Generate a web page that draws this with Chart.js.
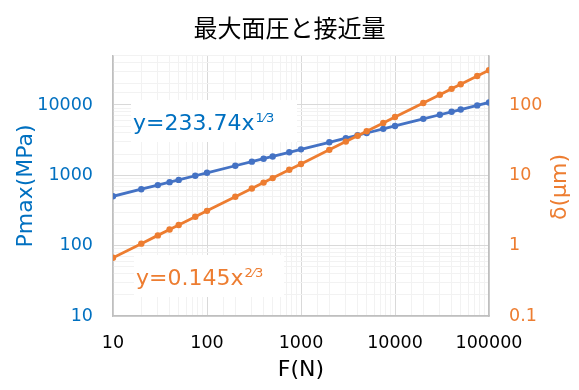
<!DOCTYPE html>
<html>
<head>
<meta charset="utf-8">
<script src="https://cdn.jsdelivr.net/npm/chart.js@4/dist/chart.umd.min.js"></script>
<style>
html,body{margin:0;padding:0;background:#fff;}
#wrap{width:579px;height:390px;position:relative;}
</style>
</head>
<body>
<div id="wrap"><canvas id="c"></canvas></div>
<script>
// Data
const forces = [10,20,30,40,50,75,100,200,300,400,500,750,1000,2000,3000,4000,5000,7500,10000,20000,30000,40000,50000,75000,100000];
const pmax = [503.6,634.5,726.3,799.4,861.1,985.7,1084.9,1366.9,1564.7,1722.2,1855.2,2123.7,2337.4,2944.9,3371.1,3710.3,3996.9,4575.3,5035.7,6344.7,7262.8,7993.8,8611.1,9857.2,10849.3];
const delta = [0.673,1.068,1.400,1.696,1.968,2.579,3.124,4.959,6.498,7.872,9.134,11.970,14.5,23.017,30.161,36.538,42.398,55.558,67.303,106.837,139.996,169.593,196.795,257.875,312.39];
const chartTitle = '最大面圧と接近量';
const xTitle = 'F(N)';
const yLeftTitle = 'Pmax(MPa)';
const yRightTitle = 'δ(μm)';
const pmaxLabel = ['y=233.74x', '1/3'];
const deltaLabel = ['y=0.145x', '2/3'];

const BLUE = '#4472C4', ORANGE = '#ED7D31', BLUE_TXT = '#0070C0';
const FONT = 'DejaVu Sans';
const isPow10 = v => v > 0 && Math.abs(Math.log10(v) - Math.round(Math.log10(v))) < 1e-9;
const fmt = v => isPow10(v) ? String(+v.toPrecision(6)) : '';
const gridColor = ctx => (ctx.tick && isPow10(ctx.tick.value)) ? '#D9D9D9' : '#F2F2F2';

const labelsPlugin = {
  id: 'trendLabels',
  afterDatasetsDraw(chart) {
    const ctx = chart.ctx;
    const drawLabel = (parts, color, x, baseline, boxW) => {
      ctx.save();
      ctx.fillStyle = '#fff';
      ctx.fillRect(x - 2, baseline - 30, boxW, 42);
      ctx.fillStyle = color;
      ctx.textBaseline = 'alphabetic';
      ctx.font = '22px "' + FONT + '"';
      ctx.fillText(parts[0], x, baseline);
      const w = ctx.measureText(parts[0]).width;
      ctx.font = '13px "' + FONT + '"';
      ctx.fillText(parts[1].replace('/', '⁄'), x + w + 1, baseline - 8);
      ctx.restore();
    };
    drawLabel(pmaxLabel, BLUE_TXT, 133, 130, 166);
    drawLabel(deltaLabel, ORANGE, 136, 285, 150);
  },
  afterDraw(chart) {
    const ctx = chart.ctx;
    const a = chart.chartArea;
    ctx.save();
    ctx.translate(560, (a.top + a.bottom) / 2 + 1);
    ctx.rotate(-Math.PI / 2);
    ctx.fillStyle = ORANGE;
    ctx.font = '22px "' + FONT + '"';
    ctx.textAlign = 'center';
    ctx.textBaseline = 'middle';
    ctx.fillText(yRightTitle, 0, 0);
    ctx.restore();
  }
};

new Chart(document.getElementById('c'), {
  type: 'scatter',
  data: {
    datasets: [
      {
        label: 'Pmax',
        data: forces.map((f, i) => ({x: f, y: pmax[i]})),
        yAxisID: 'y',
        showLine: true,
        borderColor: BLUE,
        backgroundColor: BLUE,
        borderWidth: 2.8,
        pointRadius: 3.2,
        pointBorderWidth: 0,
        order: 2
      },
      {
        label: 'delta',
        data: forces.map((f, i) => ({x: f, y: delta[i]})),
        yAxisID: 'y2',
        showLine: true,
        borderColor: ORANGE,
        backgroundColor: ORANGE,
        borderWidth: 2.8,
        pointRadius: 3.2,
        pointBorderWidth: 0,
        order: 1
      }
    ]
  },
  options: {
    responsive: true,
    maintainAspectRatio: false,
    animation: false,
    layout: {padding: 0},
    plugins: {
      legend: {display: false},
      tooltip: {enabled: false},
      title: {
        display: true,
        text: chartTitle,
        color: '#000',
        font: {family: 'Noto Sans CJK JP', size: 24, weight: 'normal'},
        padding: {top: 13, bottom: 14}
      }
    },
    scales: {
      x: {
        type: 'logarithmic',
        min: 10, max: 100000,
        afterFit: s => { s.height = 74; },
        grid: {color: gridColor, drawTicks: false, lineWidth: 1},
        border: {color: '#BFBFBF', width: 1.5},
        ticks: {
          autoSkip: false, maxRotation: 0, minRotation: 0, padding: 17,
          color: '#000', font: {family: FONT, size: 17.5},
          callback: v => fmt(v)
        },
        title: {display: true, text: xTitle, color: '#000', font: {family: FONT, size: 22}, padding: {top: 0, bottom: 7}}
      },
      y: {
        type: 'logarithmic',
        position: 'left',
        min: 10, max: 50000,
        afterFit: s => { s.width = 113; },
        grid: {color: gridColor, drawTicks: false, lineWidth: 1},
        border: {color: '#BFBFBF', width: 1.5},
        ticks: {
          autoSkip: false, padding: 20,
          color: BLUE_TXT, font: {family: FONT, size: 17.5},
          callback: v => fmt(v)
        },
        title: {display: true, text: yLeftTitle, color: BLUE_TXT, font: {family: FONT, size: 22}, padding: {top: 13, bottom: 0}}
      },
      y2: {
        type: 'logarithmic',
        position: 'right',
        min: 0.1, max: 500,
        afterFit: s => { s.width = 90; },
        grid: {drawOnChartArea: false, drawTicks: false},
        border: {color: '#BFBFBF', width: 1.5},
        ticks: {
          autoSkip: false, padding: 20,
          color: ORANGE, font: {family: FONT, size: 17.5},
          callback: v => fmt(v)
        },
        title: {display: false}
      }
    }
  },
  plugins: [labelsPlugin]
});
</script>
</body>
</html>
